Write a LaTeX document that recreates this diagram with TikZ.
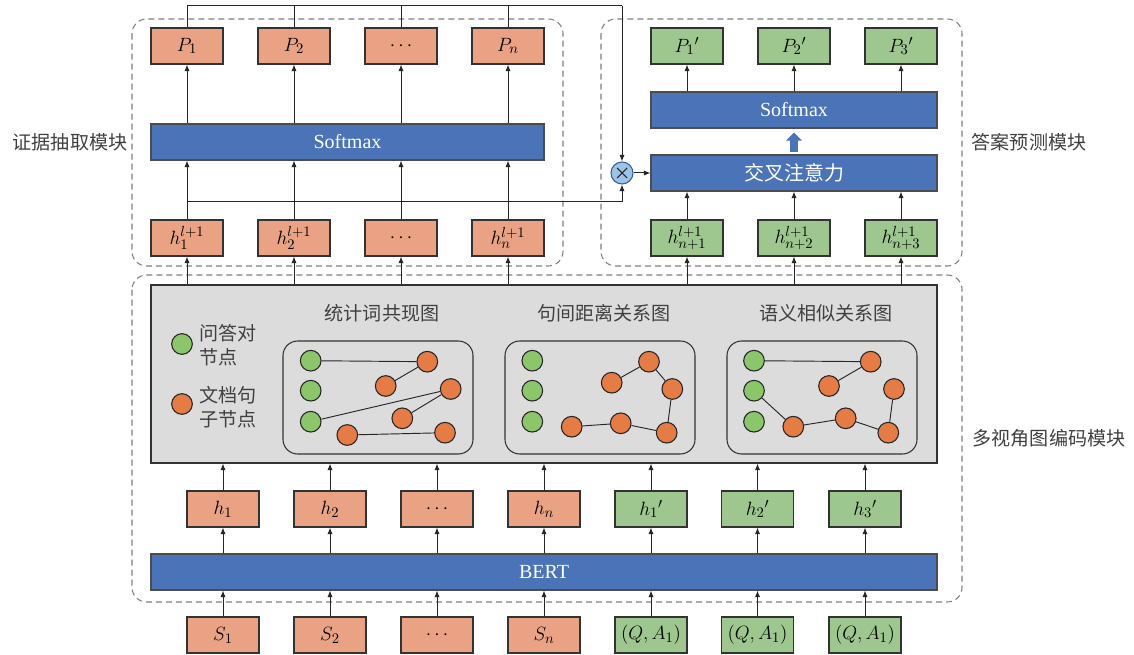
\documentclass[tikz,border=0pt]{standalone}
\usepackage{fontspec}
\setmainfont{Liberation Serif}
\newfontfamily\cjk{Noto Sans CJK SC}
\usetikzlibrary{arrows.meta,calc}
\definecolor{salmon}{HTML}{E9A384}
\definecolor{lgreen}{HTML}{9DC78E}
\definecolor{barblue}{HTML}{4A73B8}
\definecolor{ndorange}{HTML}{E57B45}
\definecolor{ndgreen}{HTML}{8CC66A}
\definecolor{grayfill}{HTML}{DCDCDC}
\definecolor{mulblue}{HTML}{9DC3E6}
\definecolor{txtgray}{HTML}{404040}
\begin{document}
\begin{tikzpicture}[x=0.75pt,y=-0.75pt,
  obox/.style={draw=black!80,line width=0.8pt,fill=salmon,minimum width=54pt,minimum height=27pt,inner sep=0pt,font=\fontsize{15.5}{17}\selectfont},
  gbox/.style={obox,fill=lgreen},
  bar/.style={draw=black!70,line width=0.8pt,fill=barblue,minimum height=27pt,inner sep=0pt,text=white,font=\fontsize{15}{17}\selectfont},
  modbox/.style={draw=black!50,dashed,dash pattern=on 4.5pt off 3pt,line width=0.8pt,rounded corners=11pt},
  subbox/.style={draw=black!80,line width=0.8pt,rounded corners=11pt,minimum width=142.5pt,minimum height=84.75pt,inner sep=0pt},
  on/.style={circle,draw=black!85,line width=0.8pt,fill=ndorange,minimum size=15.5pt,inner sep=0pt},
  gn/.style={on,fill=ndgreen},
  arr/.style={draw=black!85,line width=0.75pt,-{Latex[length=5pt,width=4pt]}},
  ln/.style={draw=black!85,line width=0.75pt},
  edge/.style={draw=black!85,line width=0.7pt},
  cjklab/.style={text=txtgray,font=\cjk\fontsize{14.3}{18}\selectfont,inner sep=0pt},
  blockarr/.style={draw=barblue,line width=5.3pt,-{Triangle[length=6pt,width=11.5pt]}}
]
\useasboundingbox (0,0) rectangle (1134,655);

% module dashed boxes
\draw[modbox] (132,19) rectangle (563,266);
\draw[modbox] (601,19) rectangle (962,266);
\draw[modbox] (132,275) rectangle (962,602);

% side labels
\node[cjklab] (labA) at (70,142) {证据抽取模块};
\node[cjklab] (labB) at (1029,142) {答案预测模块};
\node[cjklab] (labC) at (1049,438) {多视角图编码模块};

% ---- evidence extraction
\node[obox] (P1) at (187,46) {$P_1$};
\node[obox] (P2) at (294,46) {$P_2$};
\node[obox] (P3) at (401,46) {$\cdots$};
\node[obox] (Pn) at (508,46) {$P_n$};
\node[bar,minimum width=294.75pt] (sm1) at (347.5,142) {Softmax};
\node[obox] (hl1) at (187,238) {$h_1^{l+1}$};
\node[obox] (hl2) at (294,238) {$h_2^{l+1}$};
\node[obox] (hl3) at (401,238) {$\cdots$};
\node[obox] (hln) at (508,238) {$h_n^{l+1}$};
\foreach \n in {1,2,3,n}{
  \draw[arr] (hl\n.north) -- (hl\n.north |- sm1.south);
  \draw[arr] (P\n.south |- sm1.north) -- (P\n.south);
}

% ---- answer prediction
\node[gbox] (Q1) at (687,46) {$P_1{}'$};
\node[gbox] (Q2) at (794,46) {$P_2{}'$};
\node[gbox] (Q3) at (901,46) {$P_3{}'$};
\node[bar,minimum width=214.5pt] (sm2) at (794,110) {Softmax};
\node[bar,minimum width=214.5pt,font=\cjk\fontsize{15}{18}\selectfont] (cross) at (794,173) {交叉注意力};
\node[gbox] (hq1) at (687,238) {$h_{n+1}^{l+1}$};
\node[gbox] (hq2) at (794,238) {$h_{n+2}^{l+1}$};
\node[gbox] (hq3) at (901,238) {$h_{n+3}^{l+1}$};
\foreach \n in {1,2,3}{
  \draw[arr] (hq\n.north) -- (hq\n.north |- cross.south);
  \draw[arr] (Q\n.south |- sm2.north) -- (Q\n.south);
}
\draw[blockarr,shorten <=2.2pt,shorten >=3pt] (cross.north) -- (sm2.south);

% multiply node
\node[circle,draw=barblue!80!black,line width=0.8pt,fill=mulblue,minimum size=16.5pt,inner sep=0pt] (mul) at (622,173) {};
\draw[line width=0.8pt,black!85] ($(mul)+(-5,-5)$) -- ($(mul)+(5,5)$) ($(mul)+(-5,5)$) -- ($(mul)+(5,-5)$);
\coordinate (tr) at (622,6);
\coordinate (br) at (622,202);
\draw[ln] (P1.north) |- (tr);
\foreach \n in {2,3,n}{ \draw[ln] (P\n.north) -- (P\n.north |- tr); }
\draw[arr] (tr) -- (mul.north);
\draw[ln] (hl1.north |- br) -- (br);
\draw[arr] (br) -- (mul.south);
\draw[arr] (mul.east) -- (cross.west);

% ---- multi-view graph encoding
\node[draw=black!80,line width=0.8pt,fill=grayfill,minimum width=589.5pt,minimum height=133.5pt,inner sep=0pt] (gray) at (544,374) {};
\foreach \n/\m in {1/hl1,2/hl2,3/hl3,4/hln,5/hq1,6/hq2,7/hq3}{
  \draw[arr] (\m.south |- gray.north) -- (\m.south);
}
% legend
\node[gn] (lg) at (182,344) {};
\node[on] (lo) at (182,404) {};
\node[cjklab,anchor=west,align=left] (lgt) at (199,345) {问答对\\节点};
\node[cjklab,anchor=west,align=left] (lot) at (199,407) {文档句\\子节点};
% titles
\node[cjklab] (t1) at (382,313) {统计词共现图};
\node[cjklab] (t2) at (604,313) {句间距离关系图};
\node[cjklab] (t3) at (826,313) {语义相似关系图};
\node[subbox] (sb1) at (378,397.5) {};
\node[subbox] (sb2) at (600,397.5) {};
\node[subbox] (sb3) at (822,397.5) {};

% graph 1
\node[gn] (a1) at (310.7,360.7) {};
\node[gn] (a2) at (310.7,390.7) {};
\node[gn] (a3) at (310.7,421.7) {};
\node[on] (a4) at (427.3,361.7) {};
\node[on] (a5) at (385.7,386) {};
\node[on] (a6) at (450.7,389) {};
\node[on] (a7) at (402.3,418.3) {};
\node[on] (a8) at (347.3,435) {};
\node[on] (a9) at (445,432.7) {};
\draw[edge] (a1) -- (a4) (a5) -- (a4) (a3) -- (a6) (a7) -- (a6) (a8) -- (a9);

% graph 2
\node[gn] (b1) at (532.3,360.7) {};
\node[gn] (b2) at (532.3,390.7) {};
\node[gn] (b3) at (532.3,421.7) {};
\node[on] (b4) at (649,361.7) {};
\node[on] (b5) at (611.7,382.7) {};
\node[on] (b6) at (672.3,389) {};
\node[on] (b7) at (571.7,426.7) {};
\node[on] (b8) at (620.7,423.3) {};
\node[on] (b9) at (666.7,432.7) {};
\draw[edge] (b5) -- (b4) (b4) -- (b6) (b6) -- (b9) (b7) -- (b8) (b8) -- (b9);

% graph 3
\node[gn] (c1) at (754,360.7) {};
\node[gn] (c2) at (754,390.7) {};
\node[gn] (c3) at (754,421.7) {};
\node[on] (c4) at (870.7,361.7) {};
\node[on] (c5) at (829,386) {};
\node[on] (c6) at (894,389) {};
\node[on] (c7) at (793.3,426.7) {};
\node[on] (c8) at (845.7,418.3) {};
\node[on] (c9) at (888.3,432.7) {};
\draw[edge] (c1) -- (c4) (c5) -- (c4) (c2) -- (c7) (c7) -- (c8) (c8) -- (c9) (c6) -- (c9);

% ---- h row, BERT, inputs
\node[obox] (h1) at (223,509) {$h_1$};
\node[obox] (h2) at (330,509) {$h_2$};
\node[obox] (h3) at (437,509) {$\cdots$};
\node[obox] (h4) at (544,509) {$h_n$};
\node[gbox] (h5) at (651,509) {$h_1{}'$};
\node[gbox] (h6) at (757.5,509) {$h_2{}'$};
\node[gbox] (h7) at (865,509) {$h_3{}'$};
\node[bar,minimum width=589.5pt] (bert) at (544,572) {BERT};
\node[obox] (s1) at (223,635) {$S_1$};
\node[obox] (s2) at (330,635) {$S_2$};
\node[obox] (s3) at (437,635) {$\cdots$};
\node[obox] (s4) at (544,635) {$S_n$};
\node[gbox] (s5) at (651,635) {$(Q,A_1)$};
\node[gbox] (s6) at (757.5,635) {$(Q,A_1)$};
\node[gbox] (s7) at (865,635) {$(Q,A_1)$};
\foreach \n in {1,...,7}{
  \draw[arr] (h\n.north) -- (h\n.north |- gray.south);
  \draw[arr] (h\n.south |- bert.north) -- (h\n.south);
  \draw[arr] (s\n.north) -- (s\n.north |- bert.south);
}
\end{tikzpicture}
\end{document}
